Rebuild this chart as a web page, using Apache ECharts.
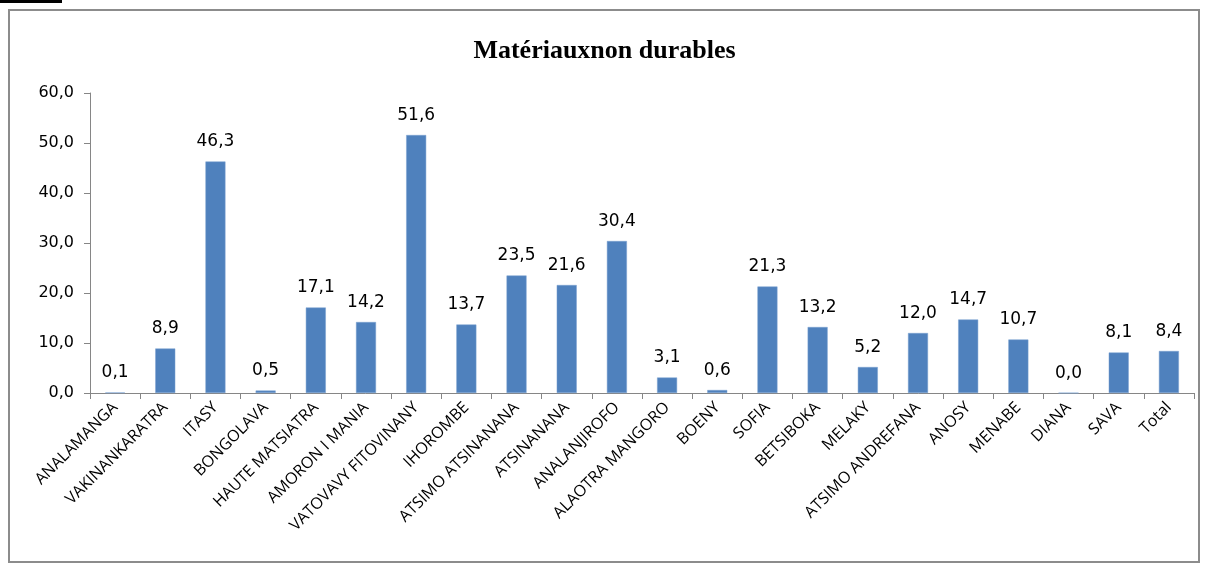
<!DOCTYPE html>
<html>
<head>
<meta charset="utf-8">
<script src="https://cdn.jsdelivr.net/npm/echarts@6/dist/echarts.min.js"></script>
<style>
  html, body { margin: 0; padding: 0; background: #fff; }
  #chart { width: 1209px; height: 563px; }
</style>
</head>
<body>
<div id="chart"></div>
<script>
const regions = [
  'ANALAMANGA', 'VAKINANKARATRA', 'ITASY', 'BONGOLAVA', 'HAUTE MATSIATRA',
  'AMORON I MANIA', 'VATOVAVY FITOVINANY', 'IHOROMBE', 'ATSIMO ATSINANANA',
  'ATSINANANA', 'ANALANJIROFO', 'ALAOTRA MANGORO', 'BOENY', 'SOFIA',
  'BETSIBOKA', 'MELAKY', 'ATSIMO ANDREFANA', 'ANOSY', 'MENABE', 'DIANA',
  'SAVA', 'Total'
];
const values = [
  0.1, 8.9, 46.3, 0.5, 17.1, 14.2, 51.6, 13.7, 23.5, 21.6, 30.4,
  3.1, 0.6, 21.3, 13.2, 5.2, 12.0, 14.7, 10.7, 0.0, 8.1, 8.4
];
const yTicks = [0, 10, 20, 30, 40, 50, 60];

const fmt = v => v.toFixed(1).replace('.', ',');

const chart = echarts.init(document.getElementById('chart'));

chart.setOption({
  animation: false,
  title: {
    text: 'Matériauxnon durables',
    left: 'center',
    top: 33,
    textStyle: {
      fontFamily: 'Liberation Serif',
      fontWeight: 'bold',
      fontSize: 26,
      color: '#000'
    }
  },
  graphic: [
    {
      type: 'rect',
      shape: { x: 9, y: 10, width: 1190, height: 552 },
      style: { fill: 'none', stroke: '#8c8c8c', lineWidth: 2 }
    },
    {
      type: 'rect',
      shape: { x: 0, y: 0, width: 62, height: 3 },
      style: { fill: '#000' }
    }
  ],
  grid: {
    left: 90,
    right: 15,
    top: 93,
    bottom: 170,
    containLabel: false
  },
  xAxis: {
    type: 'category',
    data: regions,
    axisLine: { lineStyle: { color: '#868686', width: 1 } },
    axisTick: { show: true, length: 6, alignWithLabel: false, lineStyle: { color: '#868686' } },
    axisLabel: {
      interval: 0,
      rotate: 45,
      margin: 12,
      fontFamily: 'Open Sans',
      fontSize: 16,
      color: '#000'
    }
  },
  yAxis: {
    type: 'value',
    min: 0,
    max: 60,
    interval: 10,
    axisLine: { show: true, lineStyle: { color: '#868686', width: 1 } },
    axisTick: { show: true, length: 6, lineStyle: { color: '#868686' } },
    splitLine: { show: false },
    axisLabel: {
      formatter: v => yTicks.includes(v) ? fmt(v) : '',
      fontFamily: 'DejaVu Sans',
      fontSize: 16,
      color: '#000',
      margin: 16
    }
  },
  series: [
    {
      type: 'bar',
      data: values,
      barWidth: 20,
      itemStyle: { color: '#4f81bd', borderColor: '#7aa0d0', borderWidth: 0.5 },
      label: {
        show: true,
        position: 'top',
        distance: 11,
        formatter: p => fmt(p.value),
        fontFamily: 'DejaVu Sans',
        fontSize: 17,
        color: '#000'
      }
    }
  ]
});
</script>
</body>
</html>
